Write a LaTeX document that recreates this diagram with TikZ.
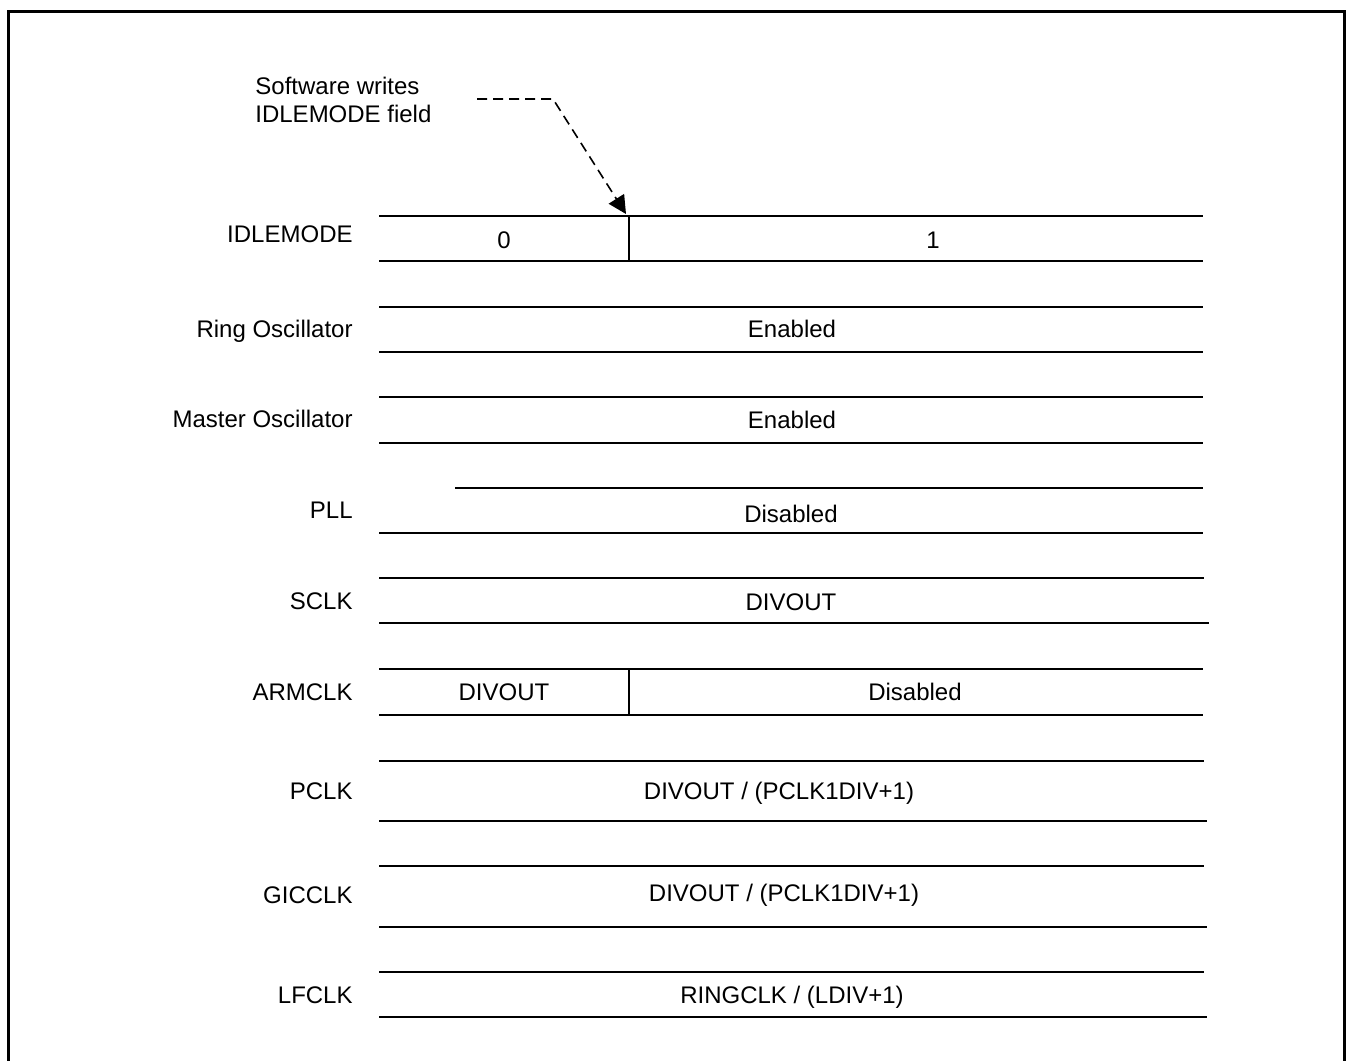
\documentclass[tikz,border=0pt]{standalone}
\usepackage{fontspec}
\setmainfont{Liberation Sans}
\usetikzlibrary{arrows.meta}
\begin{document}
\begin{tikzpicture}[x=0.5pt,y=-0.5pt,
  txt/.style={inner sep=0pt,text height=8.6pt,text depth=0pt,font=\fontsize{12}{14}\selectfont},
  lbl/.style={txt,anchor=east},
  rowline/.style={line width=1pt},
  frame/.style={line width=1.5pt},
  writearrow/.style={line width=0.8pt,dash pattern=on 5pt off 3pt,-{Triangle[length=9pt,width=9pt]}}]
\useasboundingbox (0,0) rectangle (1346,1061);
\draw[frame] (8,1061) -- (8,11) -- (1344,11) -- (1344,1061);

% note
\node[txt,anchor=west] (note1) at (255,86) {Software writes};
\node[txt,anchor=west] (note2) at (255,114) {IDLEMODE field};
\coordinate (ns) at (477,99);
\coordinate (nb) at (553,99);
\coordinate (tip) at (626,214);
\draw[writearrow] (ns) -- (nb) -- (tip);

% labels
\node[lbl] (l1) at (353,234) {IDLEMODE};
\node[lbl] (l2) at (353,329) {Ring Oscillator};
\node[lbl] (l3) at (353,419) {Master Oscillator};
\node[lbl] (l4) at (353,510) {PLL};
\node[lbl] (l5) at (353,601) {SCLK};
\node[lbl] (l6) at (353,692) {ARMCLK};
\node[lbl] (l7) at (353,791) {PCLK};
\node[lbl] (l8) at (353,895) {GICCLK};
\node[lbl] (l9) at (353,995) {LFCLK};

% row lines
\draw[rowline] (379,216) -- (1203,216);
\draw[rowline] (379,261) -- (1203,261);
\draw[rowline] (629,216) -- (629,261);
\draw[rowline] (379,307) -- (1203,307);
\draw[rowline] (379,352) -- (1203,352);
\draw[rowline] (379,397) -- (1203,397);
\draw[rowline] (379,443) -- (1203,443);
\draw[rowline] (455,488) -- (1203,488);
\draw[rowline] (379,533) -- (1203,533);
\draw[rowline] (379,578) -- (1204,578);
\draw[rowline] (379,623) -- (1209,623);
\draw[rowline] (379,669) -- (1203,669);
\draw[rowline] (379,715) -- (1203,715);
\draw[rowline] (629,669) -- (629,715);
\draw[rowline] (379,761) -- (1204,761);
\draw[rowline] (379,821) -- (1207,821);
\draw[rowline] (379,866) -- (1204,866);
\draw[rowline] (379,927) -- (1207,927);
\draw[rowline] (379,972) -- (1204,972);
\draw[rowline] (379,1017) -- (1207,1017);

% cell texts
\node[txt] (c0) at (504,240) {0};
\node[txt] (c1) at (933,240) {1};
\node[txt] (c2) at (792,329) {Enabled};
\node[txt] (c3) at (792,420) {Enabled};
\node[txt] (c4) at (791,514) {Disabled};
\node[txt] (c5) at (791,602) {DIVOUT};
\node[txt] (c6) at (504,692) {DIVOUT};
\node[txt] (c7) at (915,692) {Disabled};
\node[txt] (c8) at (779,791) {DIVOUT / (PCLK1DIV+1)};
\node[txt] (c9) at (784,893) {DIVOUT / (PCLK1DIV+1)};
\node[txt] (c10) at (792,995) {RINGCLK / (LDIV+1)};
\end{tikzpicture}
\end{document}
